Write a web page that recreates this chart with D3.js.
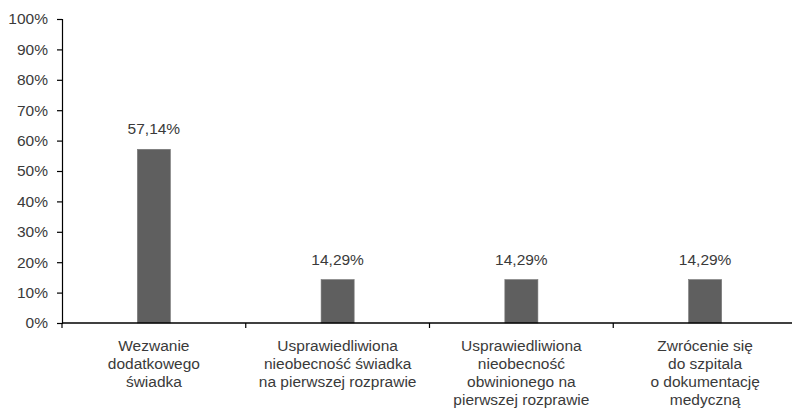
<!DOCTYPE html>
<html><head><meta charset="utf-8">
<script src="https://cdn.jsdelivr.net/npm/d3@7"></script>
<style>body{margin:0;background:#fff}svg{display:block}text{font-family:"Liberation Sans",Arial,sans-serif;fill:#3a3a3a}</style>
</head><body>
<svg id="c" width="792" height="411"></svg>
<script>
const categories = ["Wezwanie dodatkowego świadka","Usprawiedliwiona nieobecność świadka na pierwszej rozprawie","Usprawiedliwiona nieobecność obwinionego na pierwszej rozprawie","Zwrócenie się do szpitala o dokumentację medyczną"];
const categoryLines = [
  ["Wezwanie","dodatkowego","świadka"],
  ["Usprawiedliwiona","nieobecność świadka","na pierwszej rozprawie"],
  ["Usprawiedliwiona","nieobecność","obwinionego na","pierwszej rozprawie"],
  ["Zwrócenie się","do szpitala","o dokumentację","medyczną"]
];
const values = [57.14, 14.29, 14.29, 14.29];
const valueLabels = ["57,14%","14,29%","14,29%","14,29%"];
const yTicks = [0,10,20,30,40,50,60,70,80,90,100];

(function(){
const svg = d3.select("#c");
const pLeft = 62, pRight = 797, pTop = 19, pBottom = 323;
const x = d3.scaleBand().domain(categories).range([pLeft, pRight]).paddingInner(0.82).paddingOuter(0.41);
const y = d3.scaleLinear().domain([0,100]).range([pBottom, pTop]);

// bars
svg.selectAll("rect.bar").data(values).join("rect")
  .attr("x", (d,i)=>x(categories[i]))
  .attr("y", d=>y(d))
  .attr("width", x.bandwidth())
  .attr("height", d=>pBottom - y(d))
  .attr("fill", "#5f5f5f")
  .attr("stroke", "#7a7a7a").attr("stroke-width", 0.6);

// value labels
svg.selectAll("text.val").data(values).join("text")
  .attr("x", (d,i)=>x(categories[i]) + x.bandwidth()/2)
  .attr("y", d=>y(d) - 15)
  .attr("text-anchor","middle")
  .attr("font-size", "15.5px")
  .text((d,i)=>valueLabels[i]);

// y axis
const yAxis = d3.axisLeft(y).tickValues(yTicks).tickFormat(d=>d+"%").tickSize(5).tickPadding(9);
const gy = svg.append("g").attr("transform", `translate(${pLeft},0)`).call(yAxis);
gy.select(".domain").attr("stroke","#000").attr("stroke-width",1.2);
gy.selectAll(".tick line").attr("stroke","#000").attr("stroke-width",1.2);
gy.selectAll(".tick text").attr("font-size","15.5px").attr("fill","#3a3a3a").style("font-family","'Liberation Sans',Arial,sans-serif");

// x axis line
svg.append("line").attr("x1", pLeft).attr("x2", 792).attr("y1", y(0)).attr("y2", y(0))
  .attr("stroke","#000").attr("stroke-width",1.5);
// boundary ticks
const bounds = d3.range(categories.length + 1).map(i => pLeft + i * x.step());
svg.selectAll("line.bt").data(bounds).join("line")
  .attr("x1", d=>d).attr("x2", d=>d).attr("y1", y(0)).attr("y2", y(0)+5)
  .attr("stroke","#000").attr("stroke-width",1.2);

// category labels
categoryLines.forEach((lines, i) => {
  const cx = x(categories[i]) + x.bandwidth()/2;
  const t = svg.append("text").attr("text-anchor","middle").attr("font-size","15.5px");
  lines.forEach((ln, j) => {
    t.append("tspan").attr("x", cx).attr("y", 351 + j*18).text(ln);
  });
});
})();
</script>
</body></html>
